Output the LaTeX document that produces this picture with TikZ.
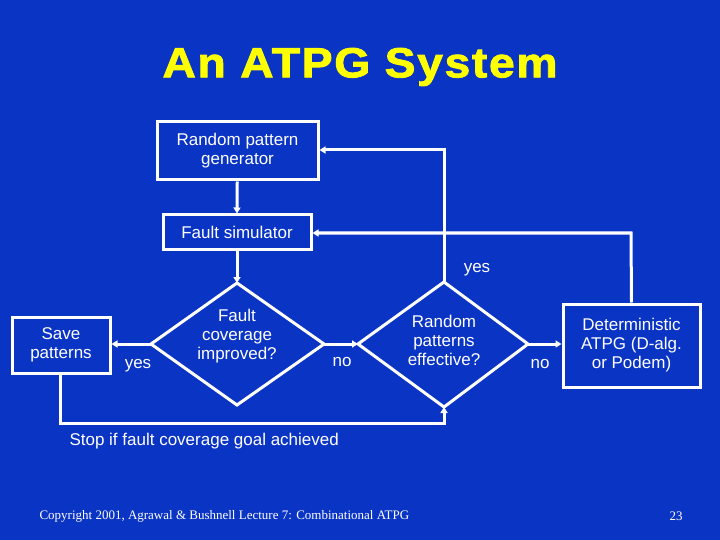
\documentclass[tikz,border=0pt]{standalone}
\usepackage{fontspec}
\setmainfont{Liberation Sans}
\newfontfamily\serif{Liberation Serif}
\newfontfamily\titlefont[FakeStretch=1.1,FakeBold=2,LetterSpace=4]{Liberation Sans}[BoldFont=* Bold]
\usetikzlibrary{shapes.geometric,arrows.meta}
\definecolor{bg}{RGB}{10,52,196}
\definecolor{ttl}{RGB}{255,255,0}
\begin{document}
\begin{tikzpicture}[x=1pt,y=-1pt,
  box/.style={draw=white,line width=3pt,text=white,align=center,font=\fontsize{17}{19}\selectfont,inner sep=0pt},
  lab/.style={text=white,font=\fontsize{17}{19}\selectfont},
  arr/.style={draw=white,line width=3pt,-{Triangle[length=6pt,width=7pt]}}]
\fill[bg] (0,0) rectangle (720,540);
\node[text=ttl,font=\titlefont\bfseries\fontsize{42}{46}\selectfont] (title) at (360,67) {An ATPG System};
\node[box,minimum width=161pt,minimum height=58pt] (rpg) at (237.5,151) {Random pattern\\generator};
\node[box,minimum width=148pt,minimum height=34pt] (fs) at (237,232) {Fault simulator};
\path[draw=white,line width=3pt] (151,344) -- (237,283) -- (324,344) -- (237,405) -- cycle;
\coordinate (d1l) at (151,344); \coordinate (d1r) at (324,344); \coordinate (d1t) at (237,283);
\node[lab,align=center] (d1) at (237,336) {Fault\\coverage\\improved?};
\path[draw=white,line width=3pt] (358,344) -- (444,282) -- (528,344) -- (444,407) -- cycle;
\coordinate (d2l) at (358,344); \coordinate (d2r) at (528,344); \coordinate (d2t) at (444,282); \coordinate (d2b) at (444,407);
\node[lab,align=center] (d2) at (444,340) {Random\\patterns\\effective?};
\node[box,minimum width=98pt,minimum height=56pt] (save) at (61,345) {Save\\patterns};
\node[box,minimum width=137pt,minimum height=83pt] (det) at (631.5,345.5) {Deterministic\\ATPG (D-alg.\\or Podem)};
\draw[arr] (rpg) -- (d1t |- fs.north);
\draw[arr] (fs) -- (d1t);
\draw[arr] (d1l) -- (save.east |- d1l);
\draw[arr] (d1r) -- (d2l);
\draw[arr] (d2r) -- (det.west |- d2r);
\draw[arr] (d2t) -- (444,150) -- (rpg.east |- 0,150);
\draw[arr] (det.north) -- (631,233) -- (fs.east |- 0,233);
\draw[arr] (save.south -| 60,0) -- (60,423) -- (444,423) -- (d2b);
\node[lab] (y1) at (477,270) {yes};
\node[lab] (y2) at (138,366) {yes};
\node[lab] (n1) at (342,362) {no};
\node[lab] (n2) at (540,364) {no};
\node[lab,anchor=west] (stop) at (66,441) {Stop if fault coverage goal achieved};
\node[text=white,font=\serif\fontsize{13}{15}\selectfont,anchor=west] (copy) at (36,516) {Copyright 2001, Agrawal \& Bushnell Lecture 7: Combinational ATPG};
\node[text=white,font=\serif\fontsize{13}{15}\selectfont] (pg) at (676,516) {23};
\end{tikzpicture}
\end{document}
